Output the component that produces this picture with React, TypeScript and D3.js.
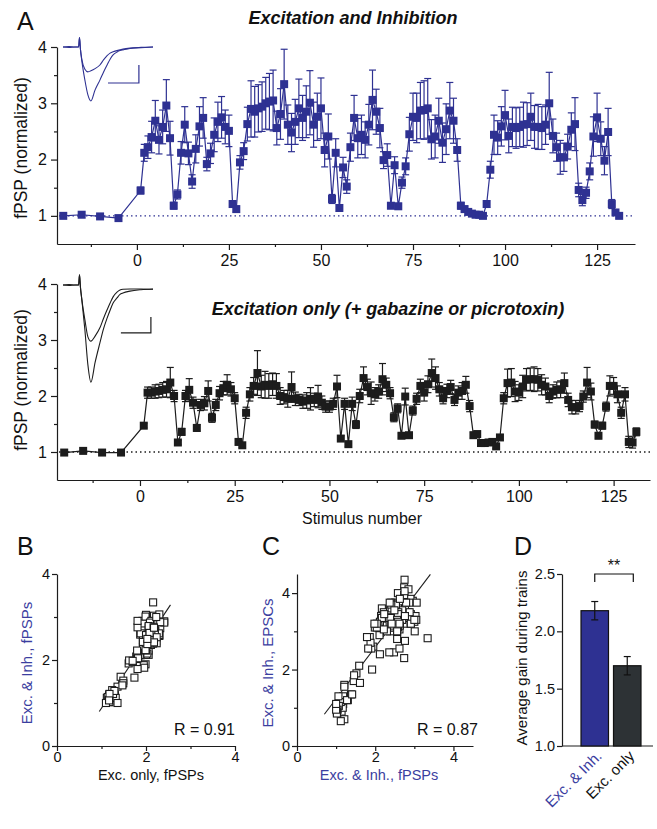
import { useEffect, useRef } from 'react';
import * as d3 from 'd3';

const FONT = '"Liberation Sans", Arial, Helvetica, sans-serif';
const BLUE = '#2e3192';
const BLUE_TEXT = '#3b3e9f';
const DARK = '#1c1c1c';
const GREY_BAR = '#2d3235';

// pre-train test stimuli
const baseStim = [-20, -15, -10, -5];
const baseExcInh = [1.0, 1.02, 0.99, 0.96];
const baseExcOnly = [0.99, 1.02, 0.99, 0.99];

// stimuli 1..131 during trains
const excInh = [
  1.45, 2.12, 2.22, 2.40, 2.69, 2.35, 2.58, 2.96, 2.38, 1.18,
  1.38, 2.12, 2.62, 2.11, 1.61, 2.19, 2.59, 2.74, 1.92, 2.11,
  2.44, 2.67, 2.75, 2.58, 2.51, 1.21, 1.12, 1.95, 2.15, 2.63,
  2.90, 2.85, 2.91, 2.94, 3.00, 3.03, 3.05, 2.56, 2.81, 3.34,
  2.62, 2.48, 2.67, 2.91, 2.74, 2.85, 3.01, 2.62, 2.76, 2.91,
  2.17, 2.41, 1.30, 2.12, 1.14, 1.86, 1.52, 2.22, 2.74, 2.38,
  2.44, 2.35, 2.62, 3.06, 2.85, 2.56, 1.99, 2.08, 1.18, 1.90,
  1.17, 1.59, 1.88, 2.45, 2.76, 2.74, 2.87, 2.88, 2.91, 2.36,
  2.41, 2.69, 2.30, 2.54, 2.87, 2.69, 2.17, 1.18, 1.12, 1.07,
  1.04, 1.02, 1.02, 1.00, 1.21, 1.82, 2.44, 2.39, 2.59, 2.79,
  2.42, 2.58, 2.56, 2.58, 2.62, 2.63, 2.76, 2.58, 2.58, 2.56,
  2.62, 3.00, 2.42, 2.22, 2.04, 2.04, 2.23, 2.53, 2.63, 1.46,
  1.28, 1.41, 1.79, 2.41, 2.75, 2.37, 1.98, 2.49, 1.21, 1.06,
  1.00,
];
const excInhErr = [
  0.06, 0.15, 0.20, 0.28, 0.36, 0.25, 0.30, 0.46, 0.30, 0.06,
  0.08, 0.20, 0.32, 0.20, 0.12, 0.25, 0.35, 0.36, 0.12, 0.18,
  0.30, 0.35, 0.37, 0.30, 0.28, 0.06, 0.05, 0.12, 0.15, 0.30,
  0.50, 0.45, 0.42, 0.44, 0.46, 0.50, 0.54, 0.30, 0.45, 0.62,
  0.35, 0.34, 0.40, 0.52, 0.40, 0.46, 0.57, 0.40, 0.42, 0.54,
  0.30, 0.40, 0.08, 0.25, 0.06, 0.18, 0.12, 0.25, 0.40, 0.35,
  0.35, 0.32, 0.36, 0.53, 0.40, 0.35, 0.15, 0.20, 0.05, 0.15,
  0.05, 0.10, 0.15, 0.30, 0.42, 0.44, 0.50, 0.52, 0.53, 0.35,
  0.38, 0.40, 0.35, 0.45, 0.50, 0.40, 0.20, 0.06, 0.05, 0.04,
  0.04, 0.04, 0.04, 0.04, 0.06, 0.15, 0.35, 0.30, 0.35, 0.44,
  0.30, 0.35, 0.36, 0.35, 0.40, 0.38, 0.42, 0.38, 0.40, 0.38,
  0.35, 0.55, 0.30, 0.25, 0.30, 0.25, 0.22, 0.30, 0.47, 0.12,
  0.10, 0.10, 0.15, 0.35, 0.43, 0.30, 0.25, 0.42, 0.08, 0.05,
  0.04,
];
const excOnly = [
  1.47, 2.06, 2.06, 2.08, 2.09, 2.11, 2.12, 2.24, 2.00, 1.17,
  1.36, 2.00, 2.11, 1.88, 1.43, 1.84, 1.87, 2.09, 1.61, 1.84,
  2.05, 2.14, 2.20, 2.12, 1.96, 1.18, 1.12, 1.70, 2.03, 2.18,
  2.41, 2.17, 2.20, 2.18, 2.21, 2.18, 2.00, 1.98, 1.95, 2.16,
  1.95, 1.93, 1.90, 1.92, 1.95, 1.93, 1.99, 1.88, 1.81, 1.81,
  1.86, 2.17, 1.24, 1.86, 1.14, 1.86, 1.49, 2.00, 2.32, 2.16,
  2.05, 2.03, 2.08, 2.30, 2.20, 2.05, 1.62, 1.78, 1.29, 1.99,
  1.30, 1.74, 1.95, 2.18, 2.06, 2.21, 2.41, 2.32, 2.12, 1.96,
  2.09, 2.16, 1.93, 2.06, 2.09, 2.20, 1.82, 1.30, 1.32, 1.16,
  1.16, 1.17, 1.18, 1.10, 1.26, 1.96, 2.23, 2.24, 2.08, 2.06,
  2.17, 2.29, 2.30, 2.30, 2.29, 2.20, 2.17, 2.00, 2.08, 2.11,
  2.12, 2.23, 1.93, 1.80, 1.80, 1.82, 1.99, 2.24, 2.08, 1.49,
  1.29, 1.47, 1.81, 2.18, 2.18, 2.03, 1.70, 2.03, 1.18, 1.17,
  1.36,
];
const excOnlyErr = [
  0.04, 0.10, 0.10, 0.12, 0.12, 0.13, 0.14, 0.27, 0.10, 0.04,
  0.06, 0.10, 0.20, 0.10, 0.06, 0.10, 0.12, 0.18, 0.08, 0.10,
  0.12, 0.12, 0.18, 0.12, 0.10, 0.05, 0.04, 0.10, 0.12, 0.15,
  0.40, 0.20, 0.24, 0.22, 0.20, 0.22, 0.15, 0.12, 0.15, 0.27,
  0.12, 0.10, 0.12, 0.14, 0.20, 0.12, 0.20, 0.12, 0.10, 0.10,
  0.10, 0.20, 0.05, 0.10, 0.04, 0.12, 0.07, 0.12, 0.20, 0.14,
  0.20, 0.12, 0.12, 0.28, 0.12, 0.10, 0.08, 0.08, 0.04, 0.15,
  0.04, 0.08, 0.10, 0.12, 0.15, 0.15, 0.25, 0.20, 0.12, 0.10,
  0.12, 0.12, 0.10, 0.12, 0.15, 0.15, 0.10, 0.05, 0.05, 0.03,
  0.03, 0.03, 0.03, 0.04, 0.05, 0.10, 0.25, 0.25, 0.18, 0.14,
  0.20, 0.20, 0.20, 0.22, 0.20, 0.18, 0.15, 0.12, 0.12, 0.14,
  0.15, 0.18, 0.12, 0.12, 0.12, 0.10, 0.10, 0.27, 0.15, 0.06,
  0.05, 0.06, 0.08, 0.18, 0.15, 0.15, 0.10, 0.12, 0.10, 0.10,
  0.07,
];
// EPSC gain (exc. & inh. condition), same stimuli
const epsc = [
  1.70, 3.10, 3.30, 3.60, 3.90, 3.20, 3.50, 3.80, 3.00, 1.20,
  1.35, 2.40, 3.40, 2.90, 1.65, 3.15, 3.60, 4.15, 2.00, 3.10,
  3.55, 3.80, 4.35, 4.00, 3.75, 0.70, 0.65, 2.60, 3.40, 3.70,
  3.85, 4.10, 3.45, 3.30, 3.25, 3.40, 3.30, 2.80, 3.20, 2.82,
  3.20, 2.45, 3.30, 3.25, 2.30, 3.40, 3.00, 2.55, 2.75, 3.20,
  3.60, 3.75, 1.20, 3.25, 0.90, 2.85, 1.90, 3.50, 3.95, 3.55,
  3.10, 3.35, 3.60, 3.75, 3.50, 3.00, 3.10, 3.15, 1.10, 2.55,
  1.00, 2.10, 2.70, 3.10, 3.60, 3.45, 3.35, 3.50, 3.20, 2.45,
  3.15, 3.30, 3.00, 3.30, 3.75, 3.55, 3.35, 1.30, 1.15, 1.05,
  0.95, 0.90, 0.85, 0.95, 1.60, 2.55, 3.25, 3.35, 3.50, 3.75,
  3.60, 3.45, 3.30, 3.20, 3.05, 3.15, 3.40, 3.25, 3.10, 3.00,
  3.20, 3.30, 3.20, 3.05, 3.10, 3.20, 3.45, 3.70, 3.85, 1.85,
  1.20, 1.35, 2.85, 3.70, 4.05, 3.75, 3.20, 3.55, 1.55, 1.30,
  1.10,
];

// regression lines [x0, x1, slope, intercept]
const fitB = [0.95, 2.55, 1.55, -0.67];
const fitC = [0.7, 3.41, 1.35, -0.115];

// panel D
const gainGroups = ['Exc. & Inh.', 'Exc. only'];
const gainMean = [2.18, 1.70];
const gainErr = [0.08, 0.08];

// example traces (ms, mV)
const traceT = [0, 2, 4, 5.2, 5.5, 5.8, 6.3, 7.3, 8.3, 9.3, 10.7, 12.3, 13.5, 14.7, 15.7, 16.7, 18, 19, 20, 22.3, 26, 30];
const traceA1 = [0, 0.01, 0, 0, 0.26, -0.05, -0.36, -0.62, -0.69, -0.66, -0.6, -0.5, -0.36, -0.24, -0.17, -0.13, -0.1, -0.08, -0.06, -0.03, -0.01, 0];
const traceA2 = [0, -0.01, 0, 0, 0.26, -0.05, -0.4, -0.92, -1.33, -1.5, -1.19, -0.92, -0.7, -0.5, -0.34, -0.22, -0.14, -0.1, -0.08, -0.04, -0.02, 0];
const traceB1 = [0, 0.01, 0, 0, 0.28, -0.05, -0.42, -0.97, -1.44, -1.56, -1.42, -1.19, -0.93, -0.69, -0.5, -0.33, -0.2, -0.14, -0.12, -0.11, -0.11, -0.12];
const traceB2 = [0, -0.01, 0, 0, 0.28, -0.05, -0.42, -1.25, -2.22, -2.7, -2.15, -1.61, -1.22, -0.92, -0.7, -0.5, -0.36, -0.26, -0.22, -0.17, -0.13, -0.11];
const scaleBarA = [15, 25.3, -1.0, -0.5];
const scaleBarB = [19.3, 29.3, -1.33, -0.89];

const stimNums = d3.range(1, excInh.length + 1);
const intFmt = d3.format('d');

function styleAxis(g: any, fs = 15) {
  g.select('.domain').attr('stroke', DARK).attr('stroke-width', 1.2);
  g.selectAll('.tick line').attr('stroke', DARK).attr('stroke-width', 1.2);
  g.selectAll('.tick text').attr('font-size', fs).attr('font-family', FONT).attr('fill', '#111');
}

function drawTrain(svg: any, x: any, y: any, color: string, baseVals: number[], vals: number[], errs: number[], xTicks: number[], xMinor: number[]) {
  const [y0] = y.range();
  const gx = svg.append('g').attr('transform', `translate(0,${y0})`)
    .call(d3.axisBottom(x).tickValues(xTicks).tickFormat(intFmt).tickSize(6).tickSizeOuter(0).tickPadding(5));
  styleAxis(gx, 16);
  const gxm = svg.append('g').attr('transform', `translate(0,${y0})`)
    .call(d3.axisBottom(x).tickValues(xMinor).tickSize(3).tickFormat(() => ''));
  gxm.select('.domain').remove();
  styleAxis(gxm);
  const gy = svg.append('g').attr('transform', `translate(${x.range()[0]},0)`)
    .call(d3.axisLeft(y).tickValues([1, 2, 3, 4]).tickFormat(intFmt).tickSize(6).tickSizeOuter(0).tickPadding(4));
  styleAxis(gy, 16);
  const gym = svg.append('g').attr('transform', `translate(${x.range()[0]},0)`)
    .call(d3.axisLeft(y).tickValues([1.5, 2.5, 3.5]).tickSize(3).tickFormat(() => ''));
  gym.select('.domain').remove();
  styleAxis(gym);

  // dotted line at 1
  svg.append('line')
    .attr('x1', x.range()[0] + 2).attr('x2', x.range()[1])
    .attr('y1', y(1)).attr('y2', y(1))
    .attr('stroke', color).attr('stroke-width', 1.3).attr('stroke-dasharray', '1.5,3');

  const pts = [
    ...baseStim.map((s, i) => ({ s, v: baseVals[i], e: 0 })),
    ...stimNums.map((s, i) => ({ s, v: vals[i], e: errs[i] })),
  ];
  const line = d3.line<any>().x(d => x(d.s)).y(d => y(d.v));
  svg.append('path').datum(pts).attr('d', line).attr('fill', 'none')
    .attr('stroke', color).attr('stroke-width', 1.2);

  const eb = svg.append('g').attr('stroke', color).attr('stroke-width', 1.2);
  pts.filter(d => d.e > 0).forEach(d => {
    const cx = x(d.s);
    eb.append('line').attr('x1', cx).attr('x2', cx).attr('y1', y(d.v - d.e)).attr('y2', y(d.v + d.e));
    eb.append('line').attr('x1', cx - 3.5).attr('x2', cx + 3.5).attr('y1', y(d.v + d.e)).attr('y2', y(d.v + d.e));
    eb.append('line').attr('x1', cx - 3.5).attr('x2', cx + 3.5).attr('y1', y(d.v - d.e)).attr('y2', y(d.v - d.e));
  });

  svg.append('g').selectAll('rect').data(pts).enter().append('rect')
    .attr('x', (d: any) => x(d.s) - 4).attr('y', (d: any) => y(d.v) - 4)
    .attr('width', 8).attr('height', 8).attr('fill', color);
}

function drawInset(svg: any, ix: any, iy: any, color: string, t1: number[], t2: number[], bar: number[]) {
  const line = d3.line<number>().x((_, i) => ix(traceT[i])).y(d => iy(d)).curve(d3.curveMonotoneX);
  [t1, t2].forEach(tr => {
    svg.append('path').datum(tr).attr('d', line).attr('fill', 'none')
      .attr('stroke', color).attr('stroke-width', 1.1);
  });
  svg.append('path')
    .attr('d', `M${ix(bar[0])},${iy(bar[2])}H${ix(bar[1])}V${iy(bar[3])}`)
    .attr('fill', 'none').attr('stroke', color).attr('stroke-width', 1.2);
}

function text(svg: any, x: number, y: number, str: string, opts: any = {}) {
  const t = svg.append('text').attr('x', x).attr('y', y).text(str)
    .attr('font-family', FONT).attr('font-size', opts.size || 15)
    .attr('fill', opts.fill || '#111')
    .attr('text-anchor', opts.anchor || 'start');
  if (opts.weight) t.attr('font-weight', opts.weight);
  if (opts.style) t.attr('font-style', opts.style);
  if (opts.rotate !== undefined) t.attr('transform', `rotate(${opts.rotate},${x},${y})`);
  return t;
}

function scatter(svg: any, x: any, y: any, xs: number[], ys: number[], fit: number[], ticks: number[], minor: number[]) {
  const [y0] = y.range();
  const x0 = x.range()[0];
  const gx = svg.append('g').attr('transform', `translate(0,${y0})`)
    .call(d3.axisBottom(x).tickValues(ticks).tickFormat(intFmt).tickSize(5).tickSizeOuter(0).tickPadding(1));
  styleAxis(gx, 14.5);
  const gxm = svg.append('g').attr('transform', `translate(0,${y0})`)
    .call(d3.axisBottom(x).tickValues(minor).tickSize(3).tickFormat(() => ''));
  gxm.select('.domain').remove();
  styleAxis(gxm);
  const gy = svg.append('g').attr('transform', `translate(${x0},0)`)
    .call(d3.axisLeft(y).tickValues(ticks).tickFormat(intFmt).tickSize(5).tickSizeOuter(0).tickPadding(2));
  styleAxis(gy, 14.5);
  const gym = svg.append('g').attr('transform', `translate(${x0},0)`)
    .call(d3.axisLeft(y).tickValues(minor).tickSize(3).tickFormat(() => ''));
  gym.select('.domain').remove();
  styleAxis(gym);

  svg.append('line')
    .attr('x1', x(fit[0])).attr('y1', y(fit[0] * fit[2] + fit[3]))
    .attr('x2', x(fit[1])).attr('y2', y(fit[1] * fit[2] + fit[3]))
    .attr('stroke', DARK).attr('stroke-width', 1.1);

  svg.append('g').selectAll('rect').data(xs).enter().append('rect')
    .attr('x', (d: number) => x(d) - 3.5).attr('y', (_: number, i: number) => y(ys[i]) - 3.5)
    .attr('width', 7).attr('height', 7)
    .attr('fill', '#fff').attr('stroke', DARK).attr('stroke-width', 1.1);
}

const App = () => {
  const ref = useRef<SVGSVGElement>(null);

  useEffect(() => {
    const svg = d3.select(ref.current);
    svg.selectAll('*').remove();

    // ---------- Panel A, top ----------
    const xA = d3.scaleLinear().domain([-21.7, 135.3]).range([57, 635]);
    const yA = d3.scaleLinear().domain([0.5, 4]).range([244, 47]);
    const xTicks = [0, 25, 50, 75, 100, 125];
    const xMinor = [-12.5, 12.5, 37.5, 62.5, 87.5, 112.5];
    drawTrain(svg, xA, yA, BLUE, baseExcInh, excInh, excInhErr, xTicks, xMinor);
    drawInset(svg, d3.scaleLinear().domain([0, 30]).range([63, 153]),
      d3.scaleLinear().domain([0, -1]).range([47, 83]), BLUE, traceA1, traceA2, scaleBarA);
    text(svg, 17, 30, 'A', { size: 25 });
    text(svg, 353, 24, 'Excitation and Inhibition', { size: 18, weight: 'bold', style: 'italic', anchor: 'middle' });
    text(svg, 27, 148, 'fPSP (normalized)', { size: 17.5, anchor: 'middle', rotate: -90 });

    // ---------- Panel A, bottom ----------
    const xA2 = d3.scaleLinear().domain([-21.9, 134.6]).range([57, 650]);
    const yA2 = d3.scaleLinear().domain([0.5, 4]).range([480, 284]);
    drawTrain(svg, xA2, yA2, DARK, baseExcOnly, excOnly, excOnlyErr, xTicks, xMinor);
    drawInset(svg, d3.scaleLinear().domain([0, 30]).range([63, 153]),
      d3.scaleLinear().domain([0, -1]).range([285, 321]), DARK, traceB1, traceB2, scaleBarB);
    text(svg, 388, 315, 'Excitation only (+ gabazine or picrotoxin)', { size: 18, weight: 'bold', style: 'italic', anchor: 'middle' });
    text(svg, 27, 380, 'fPSP (normalized)', { size: 17.5, anchor: 'middle', rotate: -90 });
    text(svg, 362, 524, 'Stimulus number', { size: 16, anchor: 'middle' });

    // ---------- Panel B ----------
    const xB = d3.scaleLinear().domain([0, 4]).range([57, 235]);
    const yB = d3.scaleLinear().domain([0, 4]).range([746, 574]);
    scatter(svg, xB, yB, excOnly, excInh, fitB, [0, 2, 4], [1, 3]);
    text(svg, 17, 555, 'B', { size: 25 });
    text(svg, 32, 663, 'Exc. & Inh., fPSPs', { size: 15, anchor: 'middle', rotate: -90, fill: BLUE_TEXT });
    text(svg, 151, 780, 'Exc. only, fPSPs', { size: 14.5, anchor: 'middle' });
    text(svg, 235, 735, 'R = 0.91', { size: 16, anchor: 'end' });

    // ---------- Panel C ----------
    const xC = d3.scaleLinear().domain([0, 4.5]).range([297, 473]);
    const yC = d3.scaleLinear().domain([0, 4.5]).range([746, 574]);
    scatter(svg, xC, yC, excInh, epsc, fitC, [0, 2, 4], [1, 3]);
    text(svg, 262, 555, 'C', { size: 25 });
    text(svg, 273, 663, 'Exc. & Inh., EPSCs', { size: 15, anchor: 'middle', rotate: -90, fill: BLUE_TEXT });
    text(svg, 379, 780, 'Exc. & Inh., fPSPs', { size: 14.5, anchor: 'middle', fill: BLUE_TEXT });
    text(svg, 478, 735, 'R = 0.87', { size: 16, anchor: 'end' });

    // ---------- Panel D ----------
    const yD = d3.scaleLinear().domain([1, 2.5]).range([746, 574]);
    const xD = d3.scaleBand().domain(gainGroups).range([578.5, 643.5]).paddingInner(0.154).paddingOuter(0.077);
    const bw = xD.bandwidth();
    const gyD = svg.append('g').attr('transform', 'translate(562,0)')
      .call(d3.axisLeft(yD).tickValues([1, 1.5, 2, 2.5]).tickFormat(d3.format('.1f')).tickSize(5).tickSizeOuter(0).tickPadding(2));
    styleAxis(gyD, 14.5);
    svg.append('line').attr('x1', 562).attr('x2', 653).attr('y1', yD(1)).attr('y2', yD(1))
      .attr('stroke', DARK).attr('stroke-width', 1.2);
    const barColors = [BLUE, GREY_BAR];
    gainGroups.forEach((g, i) => {
      const bx = xD(g) as number;
      svg.append('rect').attr('x', bx).attr('y', yD(gainMean[i])).attr('width', bw)
        .attr('height', yD(1) - yD(gainMean[i])).attr('fill', barColors[i])
        .attr('stroke', '#111').attr('stroke-width', 1.2);
      const cx = bx + bw / 2;
      svg.append('line').attr('x1', cx).attr('x2', cx)
        .attr('y1', yD(gainMean[i] - gainErr[i])).attr('y2', yD(gainMean[i] + gainErr[i]))
        .attr('stroke', '#111').attr('stroke-width', 1.2);
      [gainMean[i] - gainErr[i], gainMean[i] + gainErr[i]].forEach(v => {
        svg.append('line').attr('x1', cx - 3.5).attr('x2', cx + 3.5).attr('y1', yD(v)).attr('y2', yD(v))
          .attr('stroke', '#111').attr('stroke-width', 1.2);
      });
      text(svg, cx + 8, 757, g, { size: 15, anchor: 'end', rotate: -45, fill: i === 0 ? BLUE_TEXT : '#111' });
    });
    const b0 = (xD(gainGroups[0]) as number) + bw / 2;
    const b1 = (xD(gainGroups[1]) as number) + bw * 0.72;
    svg.append('path')
      .attr('d', `M${b0},${yD(2.43)}V${yD(2.5)}H${b1}V${yD(2.43)}`)
      .attr('fill', 'none').attr('stroke', '#111').attr('stroke-width', 1.2);
    text(svg, (b0 + b1) / 2, 571, '**', { size: 16, anchor: 'middle' });
    text(svg, 527, 658, 'Average gain during trains', { size: 15, anchor: 'middle', rotate: -90 });
    text(svg, 514, 555, 'D', { size: 25 });
  }, []);

  return (
    <svg ref={ref} width={657} height={829}
      style={{ position: 'absolute', left: 0, top: 0, background: '#fff' }} />
  );
};

export default App;
